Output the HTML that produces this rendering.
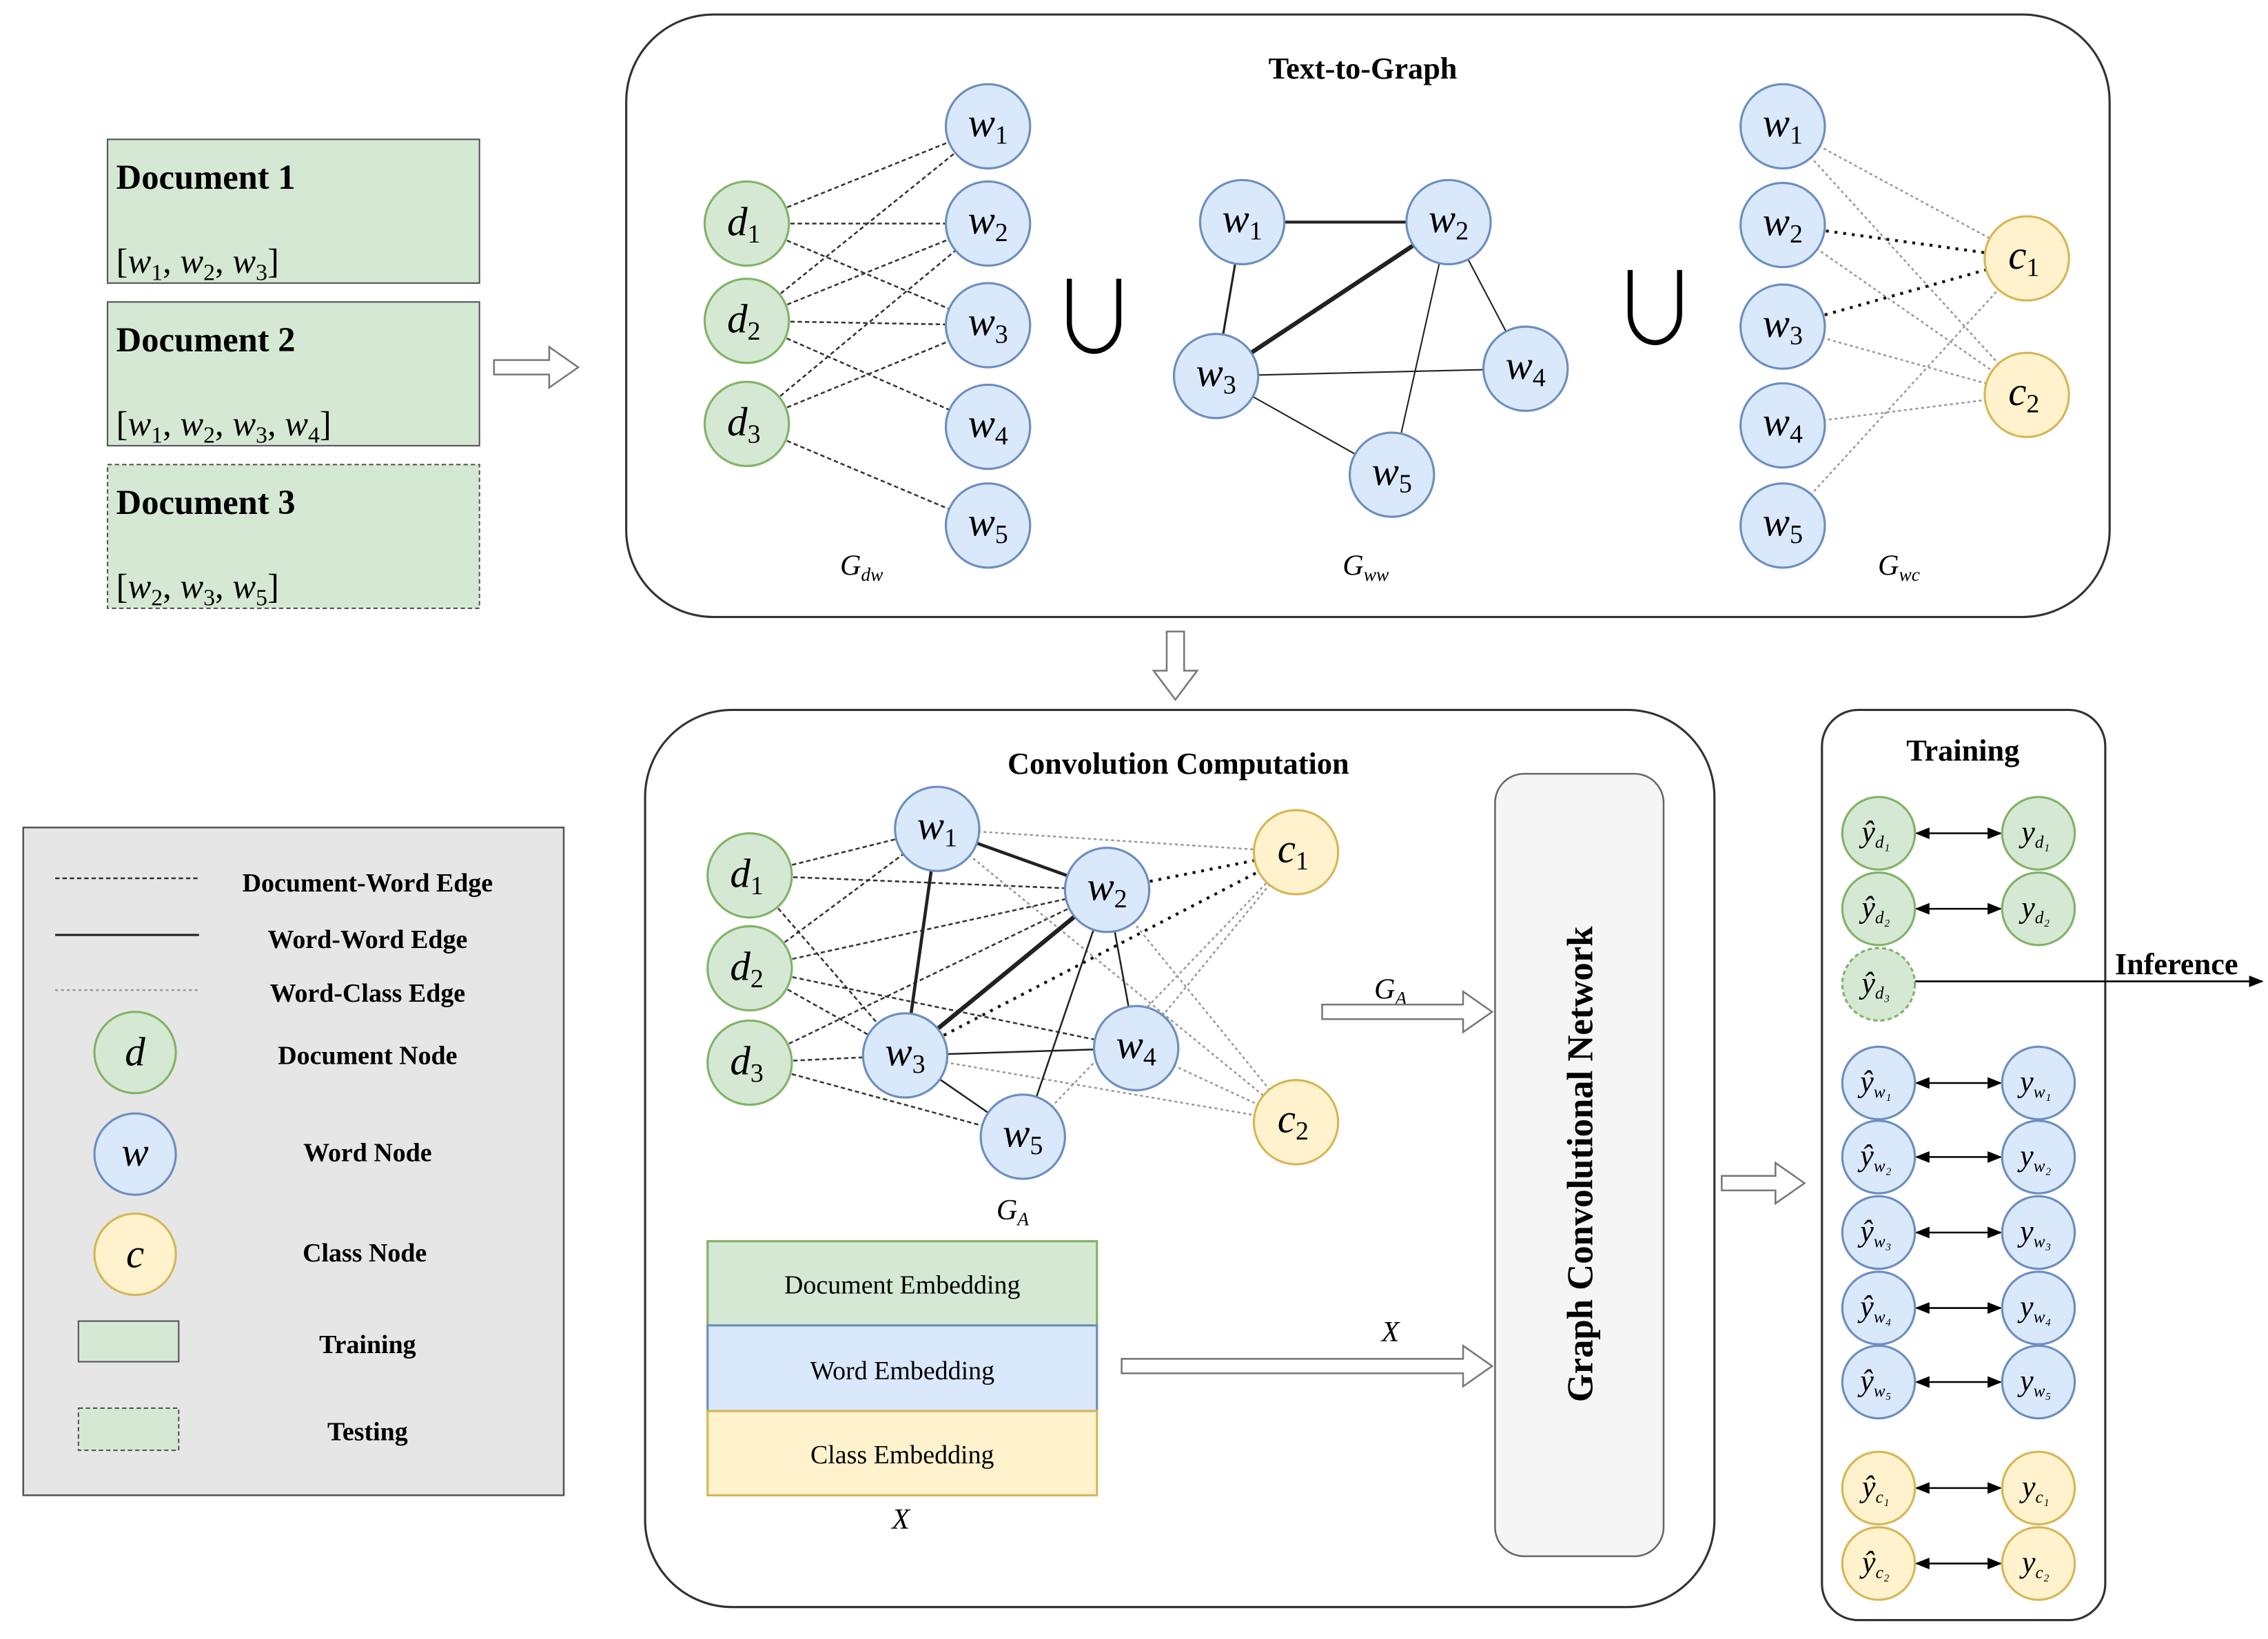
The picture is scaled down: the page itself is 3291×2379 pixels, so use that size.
<!DOCTYPE html>
<html><head><meta charset="utf-8"><style>
html,body{margin:0;padding:0;background:#fff}
svg{display:block}
text{font-family:"Liberation Serif",serif;fill:#000}
.b{font-weight:bold}
.i{font-style:italic}
</style></head><body>
<svg width="3291" height="2379" viewBox="0 0 1561 1129" preserveAspectRatio="none" xmlns="http://www.w3.org/2000/svg">
<defs>
<marker id="ah" markerWidth="10" markerHeight="10" refX="9" refY="5" orient="auto" markerUnits="userSpaceOnUse"><path d="M0,1 L10,5 L0,9 z" fill="#000"/></marker>
<marker id="at" markerWidth="10" markerHeight="10" refX="1" refY="5" orient="auto" markerUnits="userSpaceOnUse"><path d="M10,1 L0,5 L10,9 z" fill="#000"/></marker>
</defs>
<rect width="1561" height="1129" fill="#fff"/>

<!-- Documents -->
<rect x="74" y="96" width="256" height="99" fill="#d5e8d4" stroke="#555" stroke-width="1"/>
<text x="80" y="130" font-size="24" class="b">Document 1</text>
<text x="80" y="188" font-size="24"><tspan>[</tspan><tspan class="i">w</tspan><tspan font-size="16" dy="5">1</tspan><tspan dy="-5">, </tspan><tspan class="i">w</tspan><tspan font-size="16" dy="5">2</tspan><tspan dy="-5">, </tspan><tspan class="i">w</tspan><tspan font-size="16" dy="5">3</tspan><tspan dy="-5">]</tspan></text>
<rect x="74" y="208" width="256" height="99" fill="#d5e8d4" stroke="#555" stroke-width="1"/>
<text x="80" y="242" font-size="24" class="b">Document 2</text>
<text x="80" y="300" font-size="24"><tspan>[</tspan><tspan class="i">w</tspan><tspan font-size="16" dy="5">1</tspan><tspan dy="-5">, </tspan><tspan class="i">w</tspan><tspan font-size="16" dy="5">2</tspan><tspan dy="-5">, </tspan><tspan class="i">w</tspan><tspan font-size="16" dy="5">3</tspan><tspan dy="-5">, </tspan><tspan class="i">w</tspan><tspan font-size="16" dy="5">4</tspan><tspan dy="-5">]</tspan></text>
<rect x="74" y="320" width="256" height="99" fill="#d5e8d4" stroke="#555" stroke-width="1" stroke-dasharray="3,2"/>
<text x="80" y="354" font-size="24" class="b">Document 3</text>
<text x="80" y="412" font-size="24"><tspan>[</tspan><tspan class="i">w</tspan><tspan font-size="16" dy="5">2</tspan><tspan dy="-5">, </tspan><tspan class="i">w</tspan><tspan font-size="16" dy="5">3</tspan><tspan dy="-5">, </tspan><tspan class="i">w</tspan><tspan font-size="16" dy="5">5</tspan><tspan dy="-5">]</tspan></text>

<!-- Top panel -->
<rect x="431" y="10" width="1021" height="415" rx="60" fill="#fff" stroke="#333" stroke-width="1.5"/>
<text x="938" y="54" font-size="21" class="b" text-anchor="middle">Text-to-Graph</text>

<g stroke="#333" stroke-width="1.2" stroke-dasharray="3,2">
<line x1="514" y1="154" x2="680" y2="87"/><line x1="514" y1="154" x2="680" y2="154"/><line x1="514" y1="154" x2="680" y2="224"/>
<line x1="514" y1="221" x2="680" y2="87"/><line x1="514" y1="221" x2="680" y2="154"/><line x1="514" y1="221" x2="680" y2="224"/><line x1="514" y1="221" x2="680" y2="294"/>
<line x1="514" y1="292" x2="680" y2="154"/><line x1="514" y1="292" x2="680" y2="224"/><line x1="514" y1="292" x2="680" y2="362"/>
</g>
<g stroke="#222">
<line x1="855" y1="153" x2="997" y2="153" stroke-width="2"/>
<line x1="855" y1="153" x2="837" y2="259" stroke-width="1.5"/>
<line x1="997" y1="153" x2="837" y2="259" stroke-width="3"/>
<line x1="997" y1="153" x2="1050" y2="254" stroke-width="1"/>
<line x1="997" y1="153" x2="958" y2="327" stroke-width="1"/>
<line x1="837" y1="259" x2="1050" y2="254" stroke-width="1"/>
<line x1="837" y1="259" x2="958" y2="327" stroke-width="1"/>
</g>
<g stroke="#999" stroke-width="1.2" stroke-dasharray="2,2">
<line x1="1227" y1="87" x2="1395" y2="178"/><line x1="1227" y1="87" x2="1395" y2="272"/>
<line x1="1227" y1="225" x2="1395" y2="272"/><line x1="1227" y1="293" x2="1395" y2="272"/>
<line x1="1227" y1="362" x2="1395" y2="178"/><line x1="1227" y1="155" x2="1395" y2="272"/>
</g>
<g stroke="#111" stroke-width="2" stroke-dasharray="2,4">
<line x1="1227" y1="155" x2="1395" y2="178"/><line x1="1227" y1="225" x2="1395" y2="178"/>
</g>

<path d="M736,192 V222 A17,20 0 0 0 770,222 V192" fill="none" stroke="#000" stroke-width="3.5"/>
<path d="M1122,186 V216 A17,20 0 0 0 1156,216 V186" fill="none" stroke="#000" stroke-width="3.5"/>

<g stroke-width="1.5">
<g fill="#d5e8d4" stroke="#82b366"><circle cx="514" cy="154" r="29"/><circle cx="514" cy="221" r="29"/><circle cx="514" cy="292" r="29"/></g>
<g fill="#dae8fc" stroke="#6c8ebf">
<circle cx="680" cy="87" r="29"/><circle cx="680" cy="154" r="29"/><circle cx="680" cy="224" r="29"/><circle cx="680" cy="294" r="29"/><circle cx="680" cy="362" r="29"/>
<circle cx="855" cy="153" r="29"/><circle cx="997" cy="153" r="29"/><circle cx="837" cy="259" r="29"/><circle cx="1050" cy="254" r="29"/><circle cx="958" cy="327" r="29"/>
<circle cx="1227" cy="87" r="29"/><circle cx="1227" cy="155" r="29"/><circle cx="1227" cy="225" r="29"/><circle cx="1227" cy="293" r="29"/><circle cx="1227" cy="362" r="29"/>
</g>
<g fill="#fff2cc" stroke="#d6b656"><circle cx="1395" cy="178" r="29"/><circle cx="1395" cy="272" r="29"/></g>
</g>
<g font-size="28" class="i" text-anchor="middle">
<text x="512" y="162">d<tspan font-size="18" dy="5" font-style="normal">1</tspan></text>
<text x="512" y="229">d<tspan font-size="18" dy="5" font-style="normal">2</tspan></text>
<text x="512" y="300">d<tspan font-size="18" dy="5" font-style="normal">3</tspan></text>
<text x="680" y="94">w<tspan font-size="18" dy="5" font-style="normal">1</tspan></text>
<text x="680" y="161">w<tspan font-size="18" dy="5" font-style="normal">2</tspan></text>
<text x="680" y="231">w<tspan font-size="18" dy="5" font-style="normal">3</tspan></text>
<text x="680" y="301">w<tspan font-size="18" dy="5" font-style="normal">4</tspan></text>
<text x="680" y="369">w<tspan font-size="18" dy="5" font-style="normal">5</tspan></text>
<text x="855" y="160">w<tspan font-size="18" dy="5" font-style="normal">1</tspan></text>
<text x="997" y="160">w<tspan font-size="18" dy="5" font-style="normal">2</tspan></text>
<text x="837" y="266">w<tspan font-size="18" dy="5" font-style="normal">3</tspan></text>
<text x="1050" y="261">w<tspan font-size="18" dy="5" font-style="normal">4</tspan></text>
<text x="958" y="334">w<tspan font-size="18" dy="5" font-style="normal">5</tspan></text>
<text x="1227" y="94">w<tspan font-size="18" dy="5" font-style="normal">1</tspan></text>
<text x="1227" y="162">w<tspan font-size="18" dy="5" font-style="normal">2</tspan></text>
<text x="1227" y="232">w<tspan font-size="18" dy="5" font-style="normal">3</tspan></text>
<text x="1227" y="300">w<tspan font-size="18" dy="5" font-style="normal">4</tspan></text>
<text x="1227" y="369">w<tspan font-size="18" dy="5" font-style="normal">5</tspan></text>
<text x="1393" y="185">c<tspan font-size="18" dy="5" font-style="normal">1</tspan></text>
<text x="1393" y="279">c<tspan font-size="18" dy="5" font-style="normal">2</tspan></text>
</g>
<g font-size="20" class="i" text-anchor="middle">
<text x="593" y="396">G<tspan font-size="13" dy="4">dw</tspan></text>
<text x="940" y="396">G<tspan font-size="13" dy="4">ww</tspan></text>
<text x="1307" y="396">G<tspan font-size="13" dy="4">wc</tspan></text>
</g>

<!-- Convolution panel -->
<rect x="444" y="489" width="736" height="618" rx="60" fill="#fff" stroke="#333" stroke-width="1.5"/>
<text x="811" y="533" font-size="21" class="b" text-anchor="middle">Convolution Computation</text>
<g stroke="#333" stroke-width="1.2" stroke-dasharray="3,2">
<line x1="516" y1="603" x2="645" y2="571"/><line x1="516" y1="603" x2="762" y2="613"/><line x1="516" y1="603" x2="623" y2="727"/>
<line x1="516" y1="667" x2="645" y2="571"/><line x1="516" y1="667" x2="762" y2="613"/><line x1="516" y1="667" x2="623" y2="727"/><line x1="516" y1="667" x2="782" y2="722"/>
<line x1="516" y1="732" x2="762" y2="613"/><line x1="516" y1="732" x2="623" y2="727"/><line x1="516" y1="732" x2="704" y2="783"/>
</g>
<g stroke="#999" stroke-width="1.2" stroke-dasharray="2,2">
<line x1="645" y1="571" x2="892" y2="587"/><line x1="645" y1="571" x2="892" y2="773"/>
<line x1="762" y1="613" x2="892" y2="773"/><line x1="623" y1="727" x2="892" y2="773"/>
<line x1="782" y1="722" x2="892" y2="773"/><line x1="782" y1="722" x2="892" y2="587"/>
<line x1="704" y1="783" x2="892" y2="587"/>
</g>
<g stroke="#111" stroke-width="2" stroke-dasharray="2,4">
<line x1="762" y1="613" x2="892" y2="587"/><line x1="623" y1="727" x2="892" y2="587"/>
</g>
<g stroke="#222">
<line x1="645" y1="571" x2="762" y2="613" stroke-width="2.2"/>
<line x1="645" y1="571" x2="623" y2="727" stroke-width="2.2"/>
<line x1="762" y1="613" x2="623" y2="727" stroke-width="3"/>
<line x1="762" y1="613" x2="782" y2="722" stroke-width="1.2"/>
<line x1="762" y1="613" x2="704" y2="783" stroke-width="1.2"/>
<line x1="623" y1="727" x2="782" y2="722" stroke-width="1.2"/>
<line x1="623" y1="727" x2="704" y2="783" stroke-width="1.2"/>
</g>
<g stroke-width="1.5">
<g fill="#d5e8d4" stroke="#82b366"><circle cx="516" cy="603" r="29"/><circle cx="516" cy="667" r="29"/><circle cx="516" cy="732" r="29"/></g>
<g fill="#dae8fc" stroke="#6c8ebf"><circle cx="645" cy="571" r="29"/><circle cx="762" cy="613" r="29"/><circle cx="623" cy="727" r="29"/><circle cx="782" cy="722" r="29"/><circle cx="704" cy="783" r="29"/></g>
<g fill="#fff2cc" stroke="#d6b656"><circle cx="892" cy="587" r="29"/><circle cx="892" cy="773" r="29"/></g>
</g>
<g font-size="28" class="i" text-anchor="middle">
<text x="514" y="611">d<tspan font-size="18" dy="5" font-style="normal">1</tspan></text>
<text x="514" y="675">d<tspan font-size="18" dy="5" font-style="normal">2</tspan></text>
<text x="514" y="740">d<tspan font-size="18" dy="5" font-style="normal">3</tspan></text>
<text x="645" y="578">w<tspan font-size="18" dy="5" font-style="normal">1</tspan></text>
<text x="762" y="620">w<tspan font-size="18" dy="5" font-style="normal">2</tspan></text>
<text x="623" y="734">w<tspan font-size="18" dy="5" font-style="normal">3</tspan></text>
<text x="782" y="729">w<tspan font-size="18" dy="5" font-style="normal">4</tspan></text>
<text x="704" y="790">w<tspan font-size="18" dy="5" font-style="normal">5</tspan></text>
<text x="890" y="594">c<tspan font-size="18" dy="5" font-style="normal">1</tspan></text>
<text x="890" y="780">c<tspan font-size="18" dy="5" font-style="normal">2</tspan></text>
</g>
<text x="697" y="840" font-size="20" class="i" text-anchor="middle">G<tspan font-size="13" dy="4">A</tspan></text>
<text x="957" y="688" font-size="20" class="i" text-anchor="middle">G<tspan font-size="13" dy="4">A</tspan></text>
<text x="957" y="924" font-size="20" class="i" text-anchor="middle">X</text>

<rect x="487" y="855" width="268" height="58" fill="#d5e8d4" stroke="#82b366" stroke-width="1.5"/>
<rect x="487" y="913" width="268" height="59" fill="#dae8fc" stroke="#6c8ebf" stroke-width="1.5"/>
<rect x="487" y="972" width="268" height="58" fill="#fff2cc" stroke="#d6b656" stroke-width="1.5"/>
<g font-size="18" text-anchor="middle">
<text x="621" y="891">Document Embedding</text>
<text x="621" y="950">Word Embedding</text>
<text x="621" y="1008">Class Embedding</text>
</g>
<text x="620" y="1053" font-size="20" class="i" text-anchor="middle">X</text>

<!-- GCN -->
<rect x="1029" y="533" width="116" height="539" rx="20" fill="#f5f5f5" stroke="#666" stroke-width="1.2"/>
<text transform="translate(1096,802) rotate(-90)" font-size="25" class="b" text-anchor="middle">Graph Convolutional Network</text>

<!-- Training -->
<rect x="1254" y="489" width="195" height="627" rx="25" fill="#fff" stroke="#333" stroke-width="1.5"/>
<text x="1351" y="524" font-size="21" class="b" text-anchor="middle">Training</text>
<g stroke="#000" stroke-width="1.2" marker-end="url(#ah)" marker-start="url(#at)">
<line x1="1319" y1="574" x2="1377" y2="574"/><line x1="1319" y1="626" x2="1377" y2="626"/>
<line x1="1319" y1="746" x2="1377" y2="746"/><line x1="1319" y1="797" x2="1377" y2="797"/><line x1="1319" y1="849" x2="1377" y2="849"/><line x1="1319" y1="901" x2="1377" y2="901"/><line x1="1319" y1="952" x2="1377" y2="952"/>
<line x1="1319" y1="1025" x2="1377" y2="1025"/><line x1="1319" y1="1077" x2="1377" y2="1077"/>
</g>
<line x1="1318" y1="676" x2="1557" y2="676" stroke="#000" stroke-width="1.2" marker-end="url(#ah)"/>
<text x="1498" y="671" font-size="21" class="b" text-anchor="middle">Inference</text>
<g stroke-width="1.5">
<g fill="#d5e8d4" stroke="#82b366"><circle cx="1293" cy="574" r="25"/><circle cx="1403" cy="574" r="25"/><circle cx="1293" cy="626" r="25"/><circle cx="1403" cy="626" r="25"/><circle cx="1293" cy="678" r="25" stroke-dasharray="3,2"/></g>
<g fill="#dae8fc" stroke="#6c8ebf">
<circle cx="1293" cy="746" r="25"/><circle cx="1403" cy="746" r="25"/><circle cx="1293" cy="797" r="25"/><circle cx="1403" cy="797" r="25"/><circle cx="1293" cy="849" r="25"/><circle cx="1403" cy="849" r="25"/><circle cx="1293" cy="901" r="25"/><circle cx="1403" cy="901" r="25"/><circle cx="1293" cy="952" r="25"/><circle cx="1403" cy="952" r="25"/>
</g>
<g fill="#fff2cc" stroke="#d6b656"><circle cx="1293" cy="1025" r="25"/><circle cx="1403" cy="1025" r="25"/><circle cx="1293" cy="1077" r="25"/><circle cx="1403" cy="1077" r="25"/></g>
</g>
<g font-size="21" class="i" text-anchor="middle">
<text x="1291" y="580">ŷ<tspan font-size="12" dy="4">d₁</tspan></text><text x="1401" y="580">y<tspan font-size="12" dy="4">d₁</tspan></text>
<text x="1291" y="632">ŷ<tspan font-size="12" dy="4">d₂</tspan></text><text x="1401" y="632">y<tspan font-size="12" dy="4">d₂</tspan></text>
<text x="1291" y="684">ŷ<tspan font-size="12" dy="4">d₃</tspan></text>
<text x="1291" y="752">ŷ<tspan font-size="12" dy="4">w₁</tspan></text><text x="1401" y="752">y<tspan font-size="12" dy="4">w₁</tspan></text>
<text x="1291" y="803">ŷ<tspan font-size="12" dy="4">w₂</tspan></text><text x="1401" y="803">y<tspan font-size="12" dy="4">w₂</tspan></text>
<text x="1291" y="855">ŷ<tspan font-size="12" dy="4">w₃</tspan></text><text x="1401" y="855">y<tspan font-size="12" dy="4">w₃</tspan></text>
<text x="1291" y="907">ŷ<tspan font-size="12" dy="4">w₄</tspan></text><text x="1401" y="907">y<tspan font-size="12" dy="4">w₄</tspan></text>
<text x="1291" y="958">ŷ<tspan font-size="12" dy="4">w₅</tspan></text><text x="1401" y="958">y<tspan font-size="12" dy="4">w₅</tspan></text>
<text x="1291" y="1031">ŷ<tspan font-size="12" dy="4">c₁</tspan></text><text x="1401" y="1031">y<tspan font-size="12" dy="4">c₁</tspan></text>
<text x="1291" y="1083">ŷ<tspan font-size="12" dy="4">c₂</tspan></text><text x="1401" y="1083">y<tspan font-size="12" dy="4">c₂</tspan></text>
</g>

<!-- Legend -->
<rect x="16" y="570" width="372" height="460" fill="#e6e6e6" stroke="#555" stroke-width="1.2"/>
<line x1="38" y1="605" x2="137" y2="605" stroke="#333" stroke-width="1.2" stroke-dasharray="3,2"/>
<line x1="38" y1="644" x2="137" y2="644" stroke="#222" stroke-width="1.5"/>
<line x1="38" y1="682" x2="137" y2="682" stroke="#999" stroke-width="1.2" stroke-dasharray="2,2"/>
<circle cx="93" cy="725" r="28" fill="#d5e8d4" stroke="#82b366" stroke-width="1.5"/>
<circle cx="93" cy="795" r="28" fill="#dae8fc" stroke="#6c8ebf" stroke-width="1.5"/>
<circle cx="93" cy="864" r="28" fill="#fff2cc" stroke="#d6b656" stroke-width="1.5"/>
<rect x="54" y="910" width="69" height="28" fill="#d5e8d4" stroke="#555" stroke-width="1"/>
<rect x="54" y="970" width="69" height="29" fill="#d5e8d4" stroke="#555" stroke-width="1" stroke-dasharray="3,2"/>
<g font-size="28" class="i" text-anchor="middle">
<text x="93" y="734">d</text><text x="93" y="803">w</text><text x="93" y="873">c</text>
</g>
<g font-size="18" class="b" text-anchor="middle">
<text x="253" y="614">Document-Word Edge</text>
<text x="253" y="653">Word-Word Edge</text>
<text x="253" y="690">Word-Class Edge</text>
<text x="253" y="733">Document Node</text>
<text x="253" y="800">Word Node</text>
<text x="251" y="869">Class Node</text>
<text x="253" y="932">Training</text>
<text x="253" y="992">Testing</text>
</g>

<!-- hollow arrows (on top) -->
<g fill="#fff" stroke="#777" stroke-width="1.2">
<path d="M340,248 H378 V239 L398,253 L378,267 V258 H340 Z"/>
<path d="M803,435 V462 H794 L809,482 L824,462 H815 V435 Z"/>
<path d="M910,692 H1007 V683 L1027,697 L1007,711 V702 H910 Z"/>
<path d="M772,936 H1007 V927 L1027,941 L1007,955 V946 H772 Z"/>
<path d="M1185,810 H1222 V801 L1242,815 L1222,829 V820 H1185 Z"/>
</g>
</svg>
</body></html>
